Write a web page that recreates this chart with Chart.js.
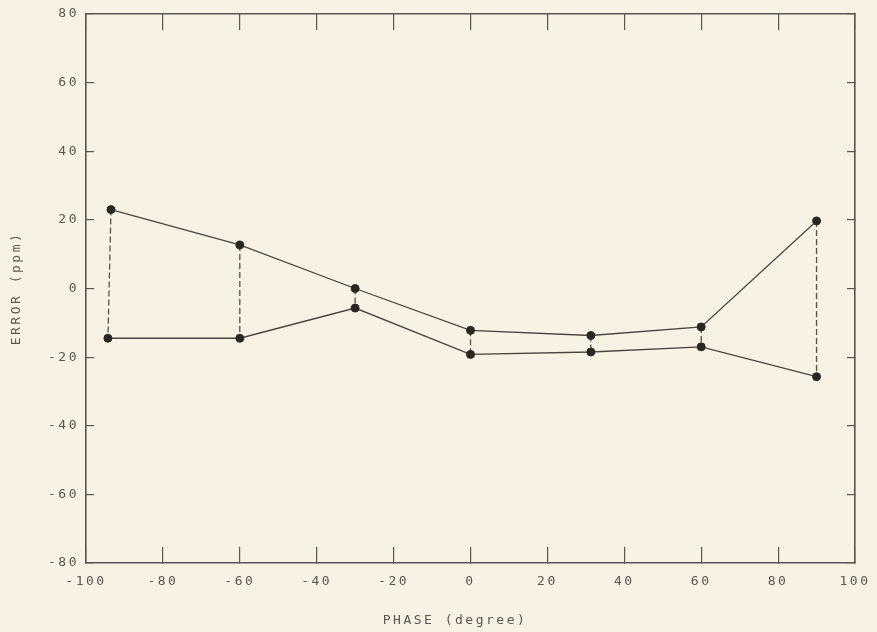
<!DOCTYPE html>
<html>
<head>
<meta charset="utf-8">
<script src="https://cdn.jsdelivr.net/npm/chart.js@4/dist/chart.umd.min.js"></script>
<style>
  html, body { margin: 0; padding: 0; background: #f8f2e4; }
  #wrap { width: 877px; height: 632px; }
</style>
</head>
<body>
<div id="wrap"><canvas id="c" width="877" height="632"></canvas></div>
<script>
// ---- data ----
const phaseUpper = [-93.5, -60, -30, 0, 31.3, 60, 90];
const errorUpper = [23, 12.7, 0, -12.2, -13.7, -11.2, 19.7];
const phaseLower = [-94.3, -60, -30, 0, 31.3, 60, 90];
const errorLower = [-14.5, -14.5, -5.7, -19.2, -18.5, -17.0, -25.7];
const xTickValues = [-100, -80, -60, -40, -20, 0, 20, 40, 60, 80, 100];
const yTickValues = [-80, -60, -40, -20, 0, 20, 40, 60, 80];
const xTitle = 'PHASE (degree)   ';
const yTitle = 'ERROR (ppm)';

const ink = '#4a4541';
const dotInk = '#2a2624';
const textInk = '#5a5550';

const toPts = (xs, ys) => xs.map((x, i) => ({x: x, y: ys[i]}));

const datasets = [];
// dashed connectors between the two series
for (let i = 0; i < phaseUpper.length; i++) {
  datasets.push({
    data: [{x: phaseUpper[i], y: errorUpper[i]}, {x: phaseLower[i], y: errorLower[i]}],
    borderColor: '#55504b', borderWidth: 1.3, borderDash: [6, 3],
    pointRadius: 0, fill: false, tension: 0, order: 2
  });
}
datasets.push({
  data: toPts(phaseUpper, errorUpper),
  borderColor: ink, borderWidth: 1.3, pointRadius: 4,
  pointBackgroundColor: dotInk, pointBorderColor: dotInk, pointBorderWidth: 1,
  fill: false, tension: 0, order: 1
});
datasets.push({
  data: toPts(phaseLower, errorLower),
  borderColor: ink, borderWidth: 1.3, pointRadius: 4,
  pointBackgroundColor: dotInk, pointBorderColor: dotInk, pointBorderWidth: 1,
  fill: false, tension: 0, order: 1
});

const bgPlugin = {
  id: 'bg',
  beforeDraw(chart) {
    const ctx = chart.ctx;
    ctx.save();
    ctx.fillStyle = '#f8f2e4';
    ctx.fillRect(0, 0, chart.width, chart.height);
    ctx.restore();
    ctx.letterSpacing = '2.5px';
  }
};

const tickFont = {family: 'DejaVu Sans Mono', size: 13};
const gridCommon = {drawOnChartArea: false, color: '#5a5550', lineWidth: 1.2};
const borderCommon = {display: true, color: '#5a5550', width: 1.6};
const noOverhang = s => { s.paddingLeft = 0; s.paddingRight = 0; s.paddingTop = 0; s.paddingBottom = 0; };

new Chart(document.getElementById('c'), {
  type: 'line',
  data: {datasets: datasets},
  plugins: [bgPlugin],
  options: {
    responsive: false,
    animation: false,
    layout: {padding: 0},
    plugins: {legend: {display: false}, tooltip: {enabled: false}},
    scales: {
      x: {
        type: 'linear', position: 'bottom', min: -100, max: 100,
        afterBuildTicks(s) { s.ticks = xTickValues.map(v => ({value: v})); },
        afterFit(s) { s.height = 69; noOverhang(s); },
        grid: Object.assign({}, gridCommon, {tickLength: -16}),
        border: borderCommon,
        ticks: {font: tickFont, color: textInk, padding: 27, maxRotation: 0, autoSkip: false,
                callback: v => String(v)},
        title: {display: true, text: xTitle, color: textInk,
                font: {family: 'DejaVu Sans Mono', size: 13}, padding: {top: 0, bottom: 4}}
      },
      x2: {
        type: 'linear', position: 'top', min: -100, max: 100,
        afterBuildTicks(s) { s.ticks = xTickValues.map(v => ({value: v})); },
        afterFit(s) { s.height = 14; noOverhang(s); },
        grid: Object.assign({}, gridCommon, {tickLength: -16}),
        border: borderCommon,
        ticks: {display: false}
      },
      y: {
        type: 'linear', position: 'left', min: -80, max: 80,
        afterBuildTicks(s) { s.ticks = yTickValues.map(v => ({value: v})); },
        afterFit(s) { s.width = 86; noOverhang(s); },
        grid: Object.assign({}, gridCommon, {tickLength: -8}),
        border: borderCommon,
        ticks: {font: tickFont, color: textInk, padding: 15, callback: v => String(v)},
        title: {display: true, text: yTitle, color: textInk,
                font: {family: 'DejaVu Sans Mono', size: 13}, padding: {top: 9, bottom: 0}}
      },
      y2: {
        type: 'linear', position: 'right', min: -80, max: 80,
        afterBuildTicks(s) { s.ticks = yTickValues.map(v => ({value: v})); },
        afterFit(s) { s.width = 22; noOverhang(s); },
        grid: Object.assign({}, gridCommon, {tickLength: -8}),
        border: borderCommon,
        ticks: {display: false}
      }
    }
  }
});
</script>
</body>
</html>
